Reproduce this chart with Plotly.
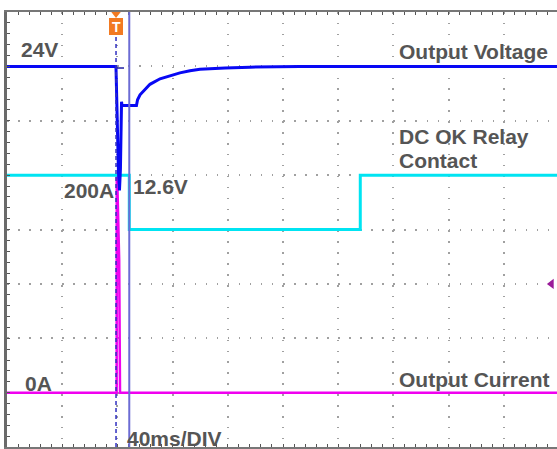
import plotly.graph_objects as go

# ---- scope settings ----
MS_PER_DIV = 40          # 40 ms/DIV
X_RANGE = [-80, 318.55]  # visible time window (ms)
Y_RANGE = [0, 8]         # screen divisions
TRIG_T = -1.0            # trigger position (ms)
CURSOR_T = 8.6           # cursor position (ms)

# ---- Output Voltage (V), 5 V/div, 24 V at 7 div ----
volt_t = [-80, -1.2, -1.0, -0.3, 0.8, 1.5, 2.2, 3.0, 3.3, 13.8, 14.6, 16.4, 20.0, 23.6,
          30.9, 38.1, 45.3, 52.6, 59.8, 78.0, 96.1, 132.3, 168.6, 320]
volt_v = [24, 24, 23.8, 19.2, 14.2, 12.6, 14.6, 20.75, 20.4, 20.4, 20.93, 21.39, 21.85, 22.35,
          22.86, 23.13, 23.40, 23.59, 23.73, 23.86, 23.93, 23.98, 24.0, 24.0]
VOLT_PER_DIV, VOLT_REF, VOLT_REF_DIV = 5, 24, 7

# small stub trace near the trigger
stub_t = [-1.3, 4.8]
stub_v = [23.85, 23.85]

# ---- DC OK relay contact (logic state), high at 5 div, low at 4 div ----
relay_t = [-80, 8.6, 8.6, 176, 176, 320]
relay_s = [1, 1, 0, 0, 1, 1]

# ---- Output current (A), 50 A/div, 0 A at 1 div ----
curr_t = [-80, -0.55, -0.45, 0.1, 1.3, 1.9, 320]
curr_a = [0, 0, 200, 185, 122, 0, 0]
AMP_PER_DIV, AMP_ZERO_DIV = 50, 1

volt_div = [VOLT_REF_DIV + (v - VOLT_REF) / VOLT_PER_DIV for v in volt_v]
stub_div = [VOLT_REF_DIV + (v - VOLT_REF) / VOLT_PER_DIV for v in stub_v]
relay_div = [4 + s for s in relay_s]
curr_div = [AMP_ZERO_DIV + a / AMP_PER_DIV for a in curr_a]

BLUE = "#0808f4"
CYAN = "#00e4f2"
MAGENTA = "#f000f0"
TXT = "#555555"

fig = go.Figure()
fig.add_trace(go.Scatter(x=curr_t, y=curr_div, mode="lines",
                         line=dict(color=MAGENTA, width=2.5)))
fig.add_trace(go.Scatter(x=relay_t, y=relay_div, mode="lines",
                         line=dict(color=CYAN, width=3)))
fig.add_trace(go.Scatter(x=volt_t, y=volt_div, mode="lines",
                         line=dict(color=BLUE, width=3)))
fig.add_trace(go.Scatter(x=stub_t, y=stub_div, mode="lines",
                         line=dict(color="#2020a0", width=1.5)))
# reference arrow on the right edge
fig.add_trace(go.Scatter(x=[314.5], y=[3], mode="markers",
                         marker=dict(symbol="triangle-left", size=9, color="#9a1c9a")))

# trigger dashed line and cursor line
fig.add_shape(type="line", xref="x", yref="y", x0=TRIG_T, x1=TRIG_T, y0=0, y1=7.55,
              line=dict(color="#3030c0", width=1.5, dash="4px,3px"), layer="above")
fig.add_shape(type="line", xref="x", yref="y", x0=CURSOR_T, x1=CURSOR_T, y0=0, y1=8,
              line=dict(color="#6c6cd4", width=2), layer="above")
# trigger marker (orange)
fig.add_shape(type="path", xref="x", yref="y", xsizemode="pixel", ysizemode="pixel",
              xanchor=TRIG_T, yanchor=8, path="M -5.5,1 L 5.5,1 L 0,-6 Z",
              fillcolor="#f27a22", line=dict(width=0), layer="above")
fig.add_shape(type="rect", xref="x", yref="y", xsizemode="pixel", ysizemode="pixel",
              xanchor=TRIG_T, yanchor=8, x0=-7, x1=7, y0=-6, y1=-23,
              fillcolor="#f27a22", line=dict(width=0), layer="above")
fig.add_annotation(x=TRIG_T, y=8, xref="x", yref="y", text="<b>T</b>", showarrow=False,
                   yshift=-15, font=dict(family="Liberation Sans, Arial", size=14, color="white"))

labels = [
    ("24V", -71.3, 7.31),
    ("Output Voltage", 202.5, 7.27),
    ("DC OK Relay", 202.5, 5.71),
    ("Contact", 202.5, 5.27),
    ("200A", -40.1, 4.72),
    ("12.6V", 9.9, 4.79),
    ("0A", -68.4, 1.17),
    ("Output Current", 202.5, 1.245),
    ("40ms/DIV", 5.5, 0.16),
]
for txt, lx, ly in labels:
    fig.add_annotation(x=lx, y=ly, xref="x", yref="y", text=f"<b>{txt}</b>",
                       showarrow=False, xanchor="left", yanchor="middle",
                       font=dict(family="Liberation Sans, Arial", size=21, color=TXT))

fig.update_xaxes(range=X_RANGE, side="top", dtick=MS_PER_DIV, tick0=-80,
                 showgrid=True, gridcolor="#a0a0a0", gridwidth=1.5, griddash="1.5px,9.42px",
                 zeroline=False, showticklabels=False,
                 showline=True, linecolor="#777777", linewidth=1.5, mirror="ticks",
                 ticks="inside", ticklen=3, tickcolor="#555555",
                 minor=dict(dtick=MS_PER_DIV / 5, ticks="inside", ticklen=3,
                            tickcolor="#555555", showgrid=False))
fig.update_yaxes(range=Y_RANGE, dtick=1, tick0=0,
                 showgrid=True, gridcolor="#a0a0a0", gridwidth=1.5, griddash="1.5px,9.54px",
                 zeroline=False, showticklabels=False,
                 showline=True, linecolor="#6a6a6a", linewidth=2.5,
                 ticks="inside", ticklen=3, tickcolor="#555555",
                 minor=dict(dtick=0.2, ticks="inside", ticklen=3,
                            tickcolor="#555555", showgrid=False))
fig.update_layout(width=557, height=449, margin=dict(l=7, r=0, t=12, b=0, pad=0),
                  paper_bgcolor="white", plot_bgcolor="white", showlegend=False)

fig.write_html("out.html", config={"displayModeBar": False},
               post_script="document.body.style.margin='0';document.body.style.overflow='hidden';")
